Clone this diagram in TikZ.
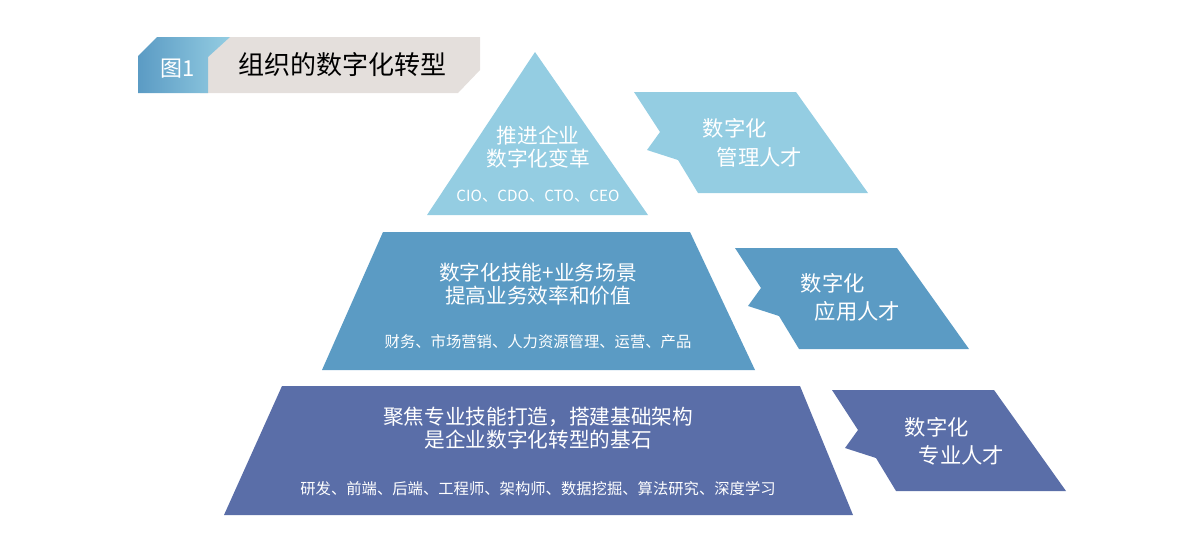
\documentclass[tikz,border=0pt]{standalone}
\usepackage{fontspec}
\setmainfont{Noto Sans CJK SC}
\definecolor{lightblue}{HTML}{94CDE2}
\definecolor{midblue}{HTML}{5B9BC4}
\definecolor{deepblue}{HTML}{5A6EA8}
\definecolor{headgray}{HTML}{E4DFDC}
\tikzset{
  bigtext/.style = {text=white, font=\fontsize{15.5}{18}\selectfont, align=center},
  smalltext/.style = {text=white, font=\fontsize{11.5}{13}\selectfont},
  tagtext/.style = {text=white, font=\fontsize{16}{19}\selectfont, anchor=west},
}
\newcommand{\tagshape}[2]{% offset, colour
  \fill[#2, shift={#1}] (0,0) -- (162,0) -- (234,101) -- (64,101) -- (44,68)
    -- (13,58) -- (26,40) -- cycle;}
\begin{document}
\begin{tikzpicture}[x=0.75pt, y=-0.75pt]
  \useasboundingbox (0,0) rectangle (1198,536);
  % header
  \fill[headgray] (200,37) -- (480,37) -- (480,70) -- (458,93) -- (200,93) -- cycle;
  \shade[left color=midblue, right color=lightblue] (138,56) -- (157,37) -- (230,37) -- (208,57) -- (208,93) -- (138,93) -- cycle;
  \node[text=white, font=\fontsize{16.5}{19}\selectfont] (fig) at (178,69) {图1};
  \node[font=\fontsize{19.5}{22}\selectfont, anchor=west] (title) at (234,65) {组织的数字化转型};

  % pyramid
  \fill[lightblue] (535,52) -- (648,215) -- (427,215) -- cycle;
  \fill[midblue] (383,232) -- (690,232) -- (755,370) -- (322,370) -- cycle;
  \fill[deepblue] (282,386) -- (800,386) -- (853,515) -- (224,515) -- cycle;

  \node[bigtext] (top) at (538,147) {推进企业\\[-1pt]数字化变革};
  \node[smalltext] (topsub) at (538,196) {CIO、CDO、CTO、CEO};
  \node[bigtext] (mid) at (538,284) {数字化技能+业务场景\\[-1pt]提高业务效率和价值};
  \node[smalltext] (midsub) at (538,342) {财务、市场营销、人力资源管理、运营、产品};
  \node[bigtext] (low) at (538,428) {聚焦专业技能打造，搭建基础架构\\[-1pt]是企业数字化转型的基石};
  \node[smalltext] (lowsub) at (538,489) {研发、前端、后端、工程师、架构师、数据挖掘、算法研究、深度学习};

  % side tags
  \tagshape{(634,92)}{lightblue}
  \tagshape{(735,248)}{midblue}
  \tagshape{(832,390)}{deepblue}
  \node[tagtext] (t1a) at (698,128) {数字化};
  \node[tagtext] (t1b) at (712,157) {管理人才};
  \node[tagtext] (t2a) at (796,283) {数字化};
  \node[tagtext] (t2b) at (810,311) {应用人才};
  \node[tagtext] (t3a) at (900,427) {数字化};
  \node[tagtext] (t3b) at (914,455) {专业人才};
\end{tikzpicture}
\end{document}
